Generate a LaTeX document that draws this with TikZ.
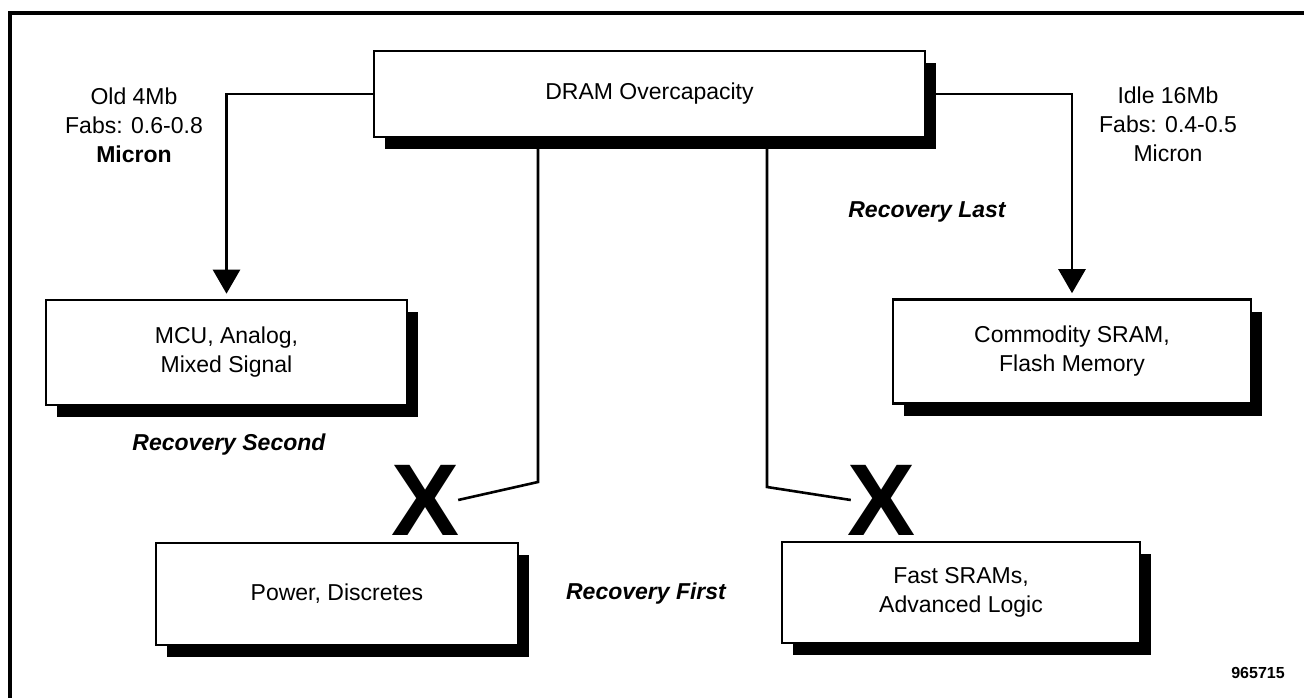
\documentclass[tikz,border=0pt]{standalone}
\usepackage{fontspec}
\setmainfont{Liberation Sans}
\usetikzlibrary{arrows.meta,shadows}
\begin{document}
\begin{tikzpicture}[x=1pt,y=-1pt,
  txt/.style={font=\fontsize{23}{29}\selectfont},
  box/.style={txt,draw,line width=2.6pt,fill=white,align=center,inner sep=0pt,
    drop shadow={opacity=1,fill=black,shadow xshift=11pt,shadow yshift=-12pt}},
  lbl/.style={txt,align=center,inner sep=0pt},
  rec/.style={font=\fontsize{23}{29}\selectfont\bfseries\itshape,inner sep=0pt},
  cross/.style={font=\fontsize{102}{102}\selectfont\bfseries,inner sep=0pt},
  conn/.style={line width=2.6pt},
  arr/.style={conn,-{Triangle[width=27pt,length=24pt]},shorten >=5pt},
  frame/.style={line width=3.5pt}
]
\useasboundingbox (0,0) rectangle (1304,698);

% outer frame
\coordinate (fbl) at (10,698);
\coordinate (ftl) at (10,13);
\coordinate (ftr) at (1304,13);
\draw[frame] (fbl) -- (ftl) -- (ftr);

% boxes
\node[box,minimum width=551pt,minimum height=86pt] (dram) at (649.5,94) {DRAM Overcapacity};
\node[box,minimum width=361pt,minimum height=105pt] (mcu) at (226.5,352.5) {MCU, Analog,\\Mixed Signal};
\node[box,minimum width=358pt,minimum height=104pt] (comm) at (1072,351.5) {Commodity SRAM,\\Flash Memory};
\node[box,minimum width=362pt,minimum height=102pt] (power) at (337,594) {Power, Discretes};
\node[box,minimum width=358pt,minimum height=101pt] (fast) at (961,592.5) {Fast SRAMs,\\Advanced Logic};

% crossed-out links
\node[cross] (xa) at (426,500) {X};
\node[cross] (xb) at (882,500) {X};

% arrows to the fabs' new products
\draw[arr] (dram.west) -| (mcu.north);
\draw[arr] (dram.east) -| (comm.north);

% blocked links
\coordinate (bendA) at (538,482);
\coordinate (bendB) at (767,487);
\draw[conn] ([xshift=-111.5pt]dram.south) -- (bendA) -- ([xshift=-2pt]xa.east);
\draw[conn] ([xshift=117.5pt]dram.south) -- (bendB) -- ([xshift=3pt]xb.west);

% labels
\node[lbl] (oldfab) at (134,125) {Old 4Mb\\Fabs: 0.6-0.8\\\textbf{Micron}};
\node[lbl] (idlefab) at (1168,124) {Idle 16Mb\\Fabs: 0.4-0.5\\Micron};
\node[rec] (rlast) at (927,212) {Recovery Last};
\node[rec] (rsecond) at (229,445) {Recovery Second};
\node[rec] (rfirst) at (646,594) {Recovery First};
\node[font=\fontsize{16}{16}\selectfont\bfseries,inner sep=0pt] (fignum) at (1258,673) {965715};
\end{tikzpicture}
\end{document}
